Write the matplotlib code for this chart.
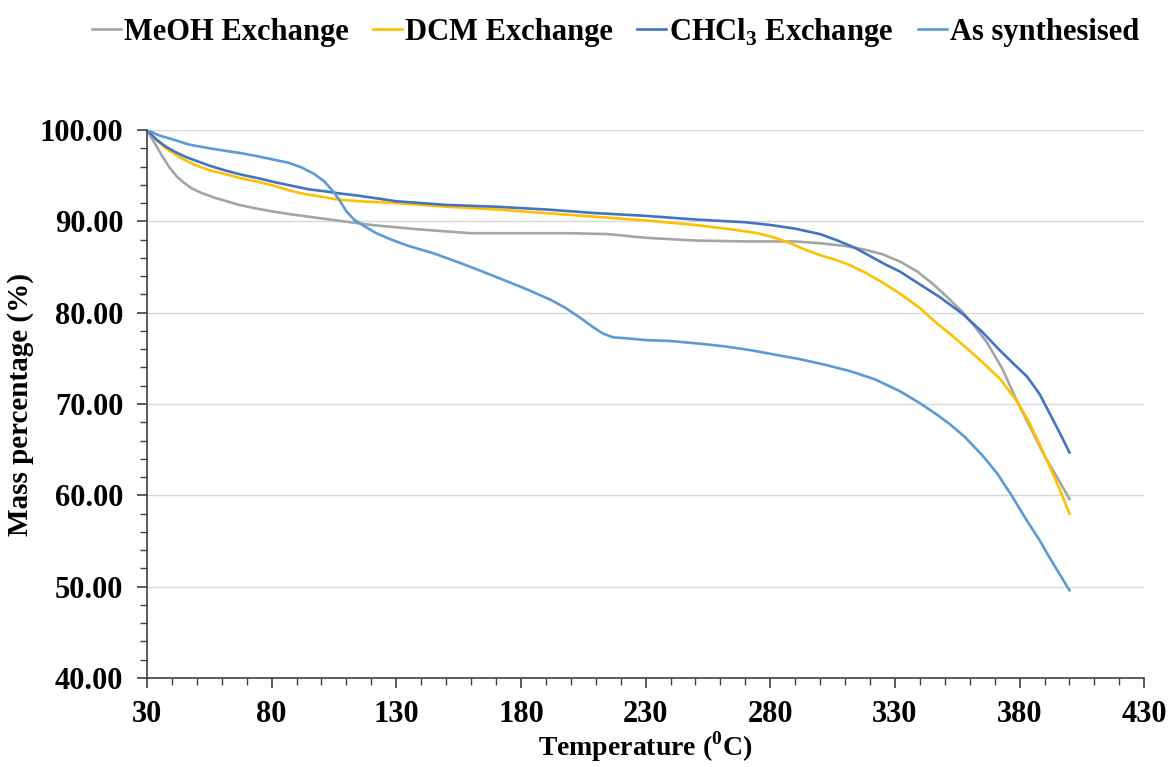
import matplotlib
matplotlib.use("Agg")
import matplotlib.pyplot as plt
from matplotlib.ticker import MultipleLocator, FormatStrFormatter

plt.rcParams['font.family'] = ['Liberation Serif', 'DejaVu Serif']
plt.rcParams['font.weight'] = 'bold'
plt.rcParams['mathtext.fontset'] = 'custom'
plt.rcParams['mathtext.rm'] = 'Liberation Serif:bold'
plt.rcParams['mathtext.bf'] = 'Liberation Serif:bold'

# temperature (C) and mass (%) for each run
meoh_t = [30, 33, 36, 39, 42, 45, 48, 52, 57, 62, 67, 74, 80, 87, 95, 106, 120, 140, 160,
          180, 200, 215, 230, 250, 270, 290, 300, 310, 318, 325, 332, 339, 345, 351, 357,
          362, 367, 373, 379, 384, 390, 395, 400]
meoh_m = [100.0, 98.6, 97.2, 95.9, 94.9, 94.2, 93.6, 93.1, 92.6, 92.2, 91.8, 91.4, 91.1,
          90.8, 90.5, 90.1, 89.6, 89.1, 88.7, 88.7, 88.7, 88.6, 88.2, 87.9, 87.8, 87.8,
          87.6, 87.3, 86.9, 86.4, 85.6, 84.5, 83.2, 81.7, 80.1, 78.5, 76.7, 73.9, 70.3,
          67.6, 64.3, 62.0, 59.6]

dcm_t = [30, 34, 38, 42, 46, 50, 55, 61, 68, 75, 81, 87, 93, 100, 106, 115, 130, 150, 170,
         190, 210, 230, 250, 265, 275, 282, 288, 294, 300, 306, 312, 318, 325, 332, 340,
         347, 352, 358, 365, 372, 379, 384, 388, 392, 396, 400]
dcm_m = [100.0, 98.9, 97.9, 97.2, 96.6, 96.1, 95.6, 95.2, 94.7, 94.3, 93.9, 93.4, 93.0,
         92.7, 92.4, 92.2, 92.0, 91.6, 91.3, 90.9, 90.5, 90.1, 89.6, 89.1, 88.7, 88.2,
         87.6, 86.9, 86.3, 85.8, 85.2, 84.4, 83.3, 82.1, 80.5, 78.8, 77.7, 76.3, 74.6,
         72.8, 70.3, 67.9, 65.6, 63.2, 60.7, 58.0]

chcl3_t = [30, 34, 38, 42, 46, 50, 55, 61, 68, 75, 81, 88, 95, 101, 106, 115, 130, 150,
           170, 190, 210, 230, 250, 270, 280, 290, 300, 307, 314, 320, 326, 332, 340, 348,
           357, 365, 372, 378, 383, 388, 392, 396, 400]
chcl3_m = [100.0, 98.9, 98.1, 97.5, 97.0, 96.6, 96.1, 95.6, 95.1, 94.7, 94.3, 93.9, 93.5,
           93.3, 93.1, 92.8, 92.2, 91.8, 91.6, 91.3, 90.9, 90.6, 90.2, 89.9, 89.6, 89.2,
           88.6, 87.9, 87.1, 86.2, 85.3, 84.5, 83.1, 81.7, 79.9, 77.9, 75.9, 74.3, 73.0,
           71.1, 69.0, 66.9, 64.7]

syn_t = [30, 35, 40, 47, 55, 62, 67, 73, 80, 87, 92, 97, 101, 104, 107, 110, 113, 117,
         122, 128, 135, 145, 158, 172, 182, 192, 198, 204, 209, 213, 217, 222, 230, 240,
         252, 262, 272, 282, 292, 302, 312, 322, 332, 340, 347, 352, 358, 365, 371, 377,
         383, 388, 392, 396, 400]
syn_m = [100.0, 99.4, 99.0, 98.4, 98.0, 97.7, 97.5, 97.2, 96.8, 96.4, 95.9, 95.2, 94.4,
         93.5, 92.4, 91.1, 90.2, 89.5, 88.7, 88.0, 87.3, 86.5, 85.2, 83.7, 82.6, 81.4,
         80.5, 79.4, 78.4, 77.7, 77.3, 77.2, 77.0, 76.9, 76.6, 76.3, 75.9, 75.4, 74.9,
         74.3, 73.6, 72.7, 71.4, 70.1, 68.8, 67.8, 66.4, 64.4, 62.4, 59.9, 57.2, 55.1,
         53.2, 51.4, 49.6]

fig = plt.figure(figsize=(11.7, 7.67), dpi=100)
ax = fig.add_axes([0.1256, 0.116, 0.8524, 0.7145])

ax.plot(meoh_t, meoh_m, color='#A5A5A5', lw=1.9, label='MeOH Exchange')
ax.plot(dcm_t, dcm_m, color='#FFC000', lw=1.9, label='DCM Exchange')
ax.plot(chcl3_t, chcl3_m, color='#4472C4', lw=1.9, label='CHCl$_3$ Exchange')
ax.plot(syn_t, syn_m, color='#5B9BD5', lw=1.9, label='As synthesised')

ax.set_xlim(30, 430)
ax.set_ylim(40, 100)
ax.xaxis.set_major_locator(MultipleLocator(50, offset=30))
ax.xaxis.set_minor_locator(MultipleLocator(10))
ax.yaxis.set_major_locator(MultipleLocator(10))
ax.yaxis.set_minor_locator(MultipleLocator(2))
ax.yaxis.set_major_formatter(FormatStrFormatter('%.2f'))
ax.grid(axis='y', which='major', color='#D9D9D9', lw=1.0)
ax.set_axisbelow(True)

for s in ['top', 'right']:
    ax.spines[s].set_visible(False)
for s in ['left', 'bottom']:
    ax.spines[s].set_color('#404040')
    ax.spines[s].set_linewidth(1.2)

ax.tick_params(which='major', length=7, width=1.2, color='#404040', labelsize=22)
ax.tick_params(which='minor', length=5, width=1.0, color='#404040')
ax.tick_params(axis='y', which='major', pad=10)
ax.tick_params(axis='x', which='major', pad=9)

ax.set_xlabel('Temperature ($^{0}$C)', fontsize=20, fontweight='bold', labelpad=0)
ax.set_ylabel('Mass percentage (%)', fontsize=21, fontweight='bold', labelpad=4)

fig.legend(loc='center', bbox_to_anchor=(0.526, 0.958), ncol=4, frameon=False,
           fontsize=22, handlelength=0.95, handletextpad=0.1, columnspacing=0.8)

fig.savefig('out.png', dpi=100)
